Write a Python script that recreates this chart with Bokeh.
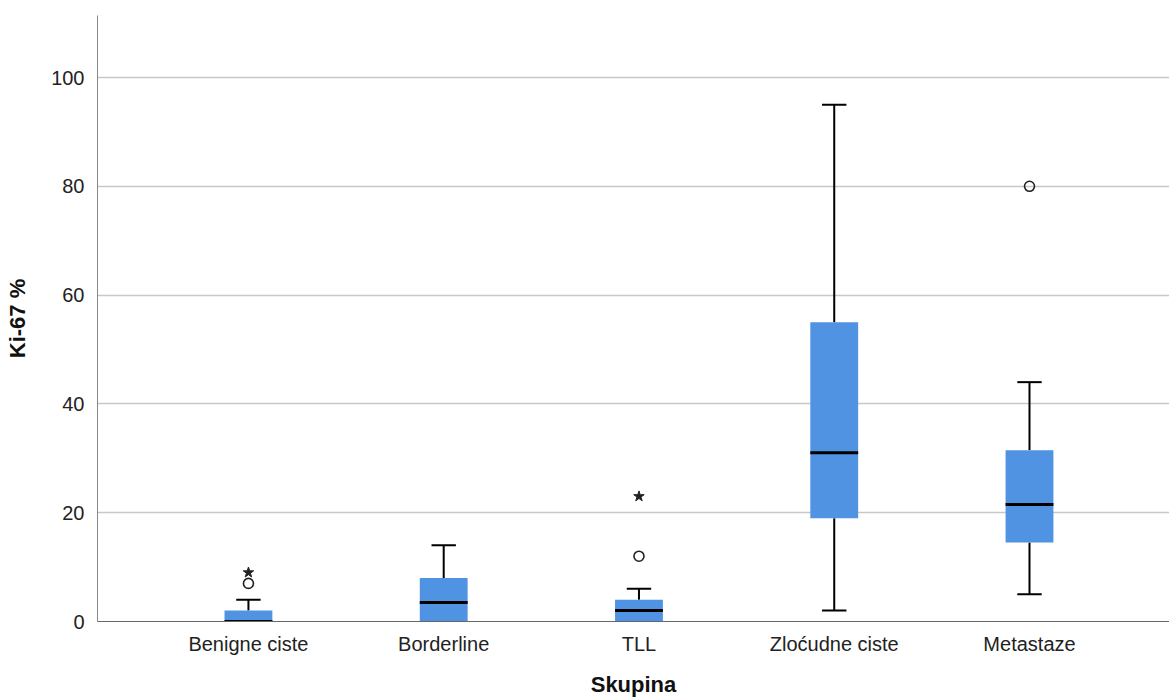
from bokeh.plotting import figure
from bokeh.models import FixedTicker, Range1d, ColumnDataSource
from bokeh.embed import file_html
from bokeh.resources import INLINE

categories = ["Benigne ciste", "Borderline", "TLL", "Zloćudne ciste", "Metastaze"]
whisker_low = [0, 0, 0, 2, 5]
q1 = [0, 0, 0, 19, 14.5]
median = [0, 3.5, 2, 31, 21.5]
q3 = [2, 8, 4, 55, 31.5]
whisker_high = [4, 14, 6, 95, 44]
outlier_group = [0, 2, 4]
outlier_value = [7, 12, 80]
extreme_group = [0, 2]
extreme_value = [9, 23]
y_ticks = [0, 20, 40, 60, 80, 100]

FONT = "Liberation Sans"
BOX_W = 0.245
CAP_W = 0.125

xs = [i + 1 for i in range(len(categories))]

p = figure(width=1169, height=700, output_backend="svg", toolbar_location=None,
           x_range=Range1d(0.227, 5.717), y_range=Range1d(0, 111.4),
           min_border_left=97, min_border_right=0, min_border_top=15, min_border_bottom=79)
p.outline_line_color = None
p.background_fill_color = "white"
p.border_fill_color = "white"

src = ColumnDataSource(dict(x=xs, q1=q1, q3=q3, med=median, lo=whisker_low, hi=whisker_high,
                            left=[x - BOX_W / 2 for x in xs], right=[x + BOX_W / 2 for x in xs],
                            cl=[x - CAP_W / 2 for x in xs], cr=[x + CAP_W / 2 for x in xs]))

# whiskers (upper)
p.segment(x0="x", y0="q3", x1="x", y1="hi", source=src, line_color="black", line_width=2)
p.segment(x0="cl", y0="hi", x1="cr", y1="hi", source=src, line_color="black", line_width=2)
# whiskers (lower) only where they have length
low_idx = [i for i in range(len(xs)) if whisker_low[i] < q1[i]]
lsrc = ColumnDataSource(dict(x=[xs[i] for i in low_idx], lo=[whisker_low[i] for i in low_idx],
                             q1=[q1[i] for i in low_idx],
                             cl=[xs[i] - CAP_W / 2 for i in low_idx], cr=[xs[i] + CAP_W / 2 for i in low_idx]))
p.segment(x0="x", y0="lo", x1="x", y1="q1", source=lsrc, line_color="black", line_width=2)
p.segment(x0="cl", y0="lo", x1="cr", y1="lo", source=lsrc, line_color="black", line_width=2)

# boxes
p.quad(left="left", right="right", bottom="q1", top="q3", source=src,
       fill_color="#4F93E2", line_color=None)
# medians
p.segment(x0="left", y0="med", x1="right", y1="med", source=src, line_color="black", line_width=3)

# outliers
p.scatter([xs[g] for g in outlier_group], outlier_value, marker="circle", size=10,
          fill_color=None, line_color="#222222", line_width=1.6)
p.scatter([xs[g] for g in extreme_group], extreme_value, marker="star", size=11,
          fill_color="#222222", line_color="#222222", line_width=1)

# axes
p.xaxis.ticker = FixedTicker(ticks=xs)
p.xaxis.major_label_overrides = {x: c for x, c in zip(xs, categories)}
p.yaxis.ticker = FixedTicker(ticks=y_ticks)
for ax in (p.xaxis[0], p.yaxis[0]):
    ax.major_tick_line_color = None
    ax.minor_tick_line_color = None
    ax.major_label_text_font = FONT
    ax.major_label_text_font_size = "20px"
    ax.major_label_text_color = "#222222"
    ax.axis_label_text_font = FONT
    ax.axis_label_text_font_size = "22px"
    ax.axis_label_text_font_style = "bold"
    ax.axis_label_text_color = "#111111"
p.xaxis.axis_line_color = "#666666"
p.yaxis.axis_line_color = "#888888"
p.xaxis.axis_label = "Skupina"
p.yaxis.axis_label = "Ki-67 %"
p.xaxis.major_label_standoff = 5
p.yaxis.major_label_standoff = 7
p.xaxis.axis_label_standoff = 14
p.yaxis.axis_label_standoff = 18

p.xgrid.visible = False
p.ygrid.ticker = FixedTicker(ticks=[20, 40, 60, 80, 100])
p.ygrid.grid_line_color = "#c8c8c8"
p.ygrid.grid_line_width = 1.3

open("out.html", "w").write(file_html(p, INLINE))
